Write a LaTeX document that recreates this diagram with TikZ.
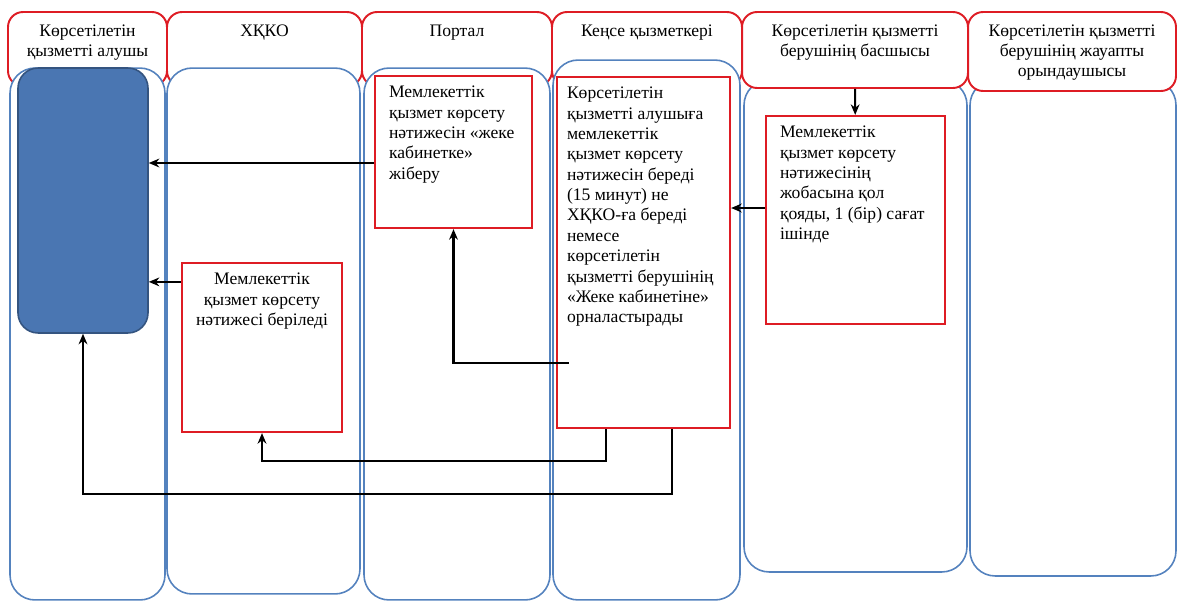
\documentclass[tikz,border=0pt]{standalone}
\usepackage{fontspec}
\setmainfont{Liberation Serif}
\usetikzlibrary{arrows.meta}
\definecolor{headred}{RGB}{222,28,36}
\definecolor{laneblue}{RGB}{84,130,190}
\definecolor{boxblue}{RGB}{74,118,178}
\definecolor{boxedge}{RGB}{52,84,128}
\newcommand{\tbox}[3]{\parbox[c][#2][t]{#1}{#3}}
\tikzset{
  lane/.style={draw=laneblue, line width=0.9pt, rounded corners=0.5cm, fill=white, inner sep=0pt},
  head/.style={draw=headred, line width=1.1pt, rounded corners=0.3cm, fill=white, inner xsep=0.1cm, inner ysep=0.25cm},
  stepbox/.style={draw=headred, line width=1.3pt, fill=white, inner xsep=0.2cm, inner ysep=0.2cm},
  arr/.style={-{Stealth[length=6pt,width=5pt]}, line width=1.2pt},
}

\begin{document}
\begin{tikzpicture}[x=0.02cm, y=-0.02cm, font=\fontsize{10}{11.6}\selectfont]
    \useasboundingbox (0,0) rectangle (1179,602);
    \node[head] (H1) at (87.5,49) {\tbox{2.98cm}{0.98cm}{\centering Көрсетілетін\\ қызметті алушы}};
    \node[head] (H2) at (264.5,49) {\tbox{3.7cm}{0.98cm}{\centering ХҚКО}};
    \node[head] (H3) at (457,49) {\tbox{3.6cm}{0.98cm}{\centering Портал}};
    \node[head] (H4) at (647,49) {\tbox{3.6cm}{0.98cm}{\centering Кеңсе қызметкері}};
    \node[lane, minimum width=3.1cm, minimum height=10.64cm] (L1) at (87.5,334) {};
    \node[lane, minimum width=3.86cm, minimum height=10.52cm] (L2) at (263.5,331) {};
    \node[lane, minimum width=3.72cm, minimum height=10.64cm] (L3) at (457,334) {};
    \node[lane, minimum width=3.74cm, minimum height=10.8cm] (L4) at (646.5,330) {};
    \node[lane, minimum width=4.46cm, minimum height=9.84cm] (L5) at (855.5,326) {};
    \node[lane, minimum width=4.12cm, minimum height=9.92cm] (L6) at (1073,328) {};
    \node[head] (H5) at (855,50) {\tbox{4.32cm}{1.02cm}{\centering Көрсетілетін қызметті\\ берушінің басшысы}};
    \node[head] (H6) at (1072,51.5) {\tbox{3.96cm}{1.08cm}{\centering Көрсетілетін қызметті\\ берушінің жауапты\\ орындаушысы}};
    \node[draw=boxedge, fill=boxblue, line width=0.9pt, rounded corners=0.4cm, minimum width=2.6cm, minimum height=5.3cm] (D) at (83,200.5) {};
    \node[stepbox, inner xsep=0.28cm] (P) at (453.5,152) {\tbox{2.58cm}{2.64cm}{\raggedright Мемлекеттік\\ қызмет көрсету\\ нәтижесін «жеке\\ кабинетке»\\ жіберу}};
    \node[stepbox] (K) at (643.5,252.5) {\tbox{3.06cm}{6.62cm}{\raggedright Көрсетілетін\\ қызметті алушыға\\ мемлекеттік\\ қызмет көрсету\\ нәтижесін береді\\ (15 минут) не\\ ХҚКО-ға береді\\ немесе\\ көрсетілетін\\ қызметті берушінің\\ «Жеке кабинетіне»\\ орналастырады}};
    \node[stepbox, inner xsep=0.28cm] (B) at (855.5,220) {\tbox{3.02cm}{3.76cm}{\raggedright Мемлекеттік\\ қызмет көрсету\\ нәтижесінің\\ жобасына қол\\ қояды, 1 (бір) сағат\\ ішінде}};
    \node[stepbox] (X) at (262,347.5) {\tbox{2.8cm}{2.98cm}{\centering Мемлекеттік\\ қызмет көрсету\\ нәтижесі беріледі}};
    \coordinate (b1) at ([yshift=0.24cm]B.west);
    \coordinate (p1) at ([yshift=-0.22cm]P.west);
    \coordinate (x1) at ([yshift=-0.4cm]X.north west);
    \coordinate (k1) at ([shift={(0.26cm,-2.21cm)}]K.west);
    \coordinate (k2) at ([xshift=-0.75cm]K.south);
    \coordinate (k3) at ([xshift=0.57cm]K.south);
    \draw[arr] (H5) -- (B);
    \draw[arr] (b1) -- (b1 -| K.east);
    \draw[arr] (p1) -- (p1 -| D.east);
    \draw[arr] (x1) -- (x1 -| D.east);
    \draw[arr] (k1) -| (P.south);
    \draw[arr] (k2) -- ++(0,-0.64cm) -| (X.south);
    \draw[arr] (k3) -- ++(0,-1.3cm) -| (D.south);
\end{tikzpicture}
\end{document}
